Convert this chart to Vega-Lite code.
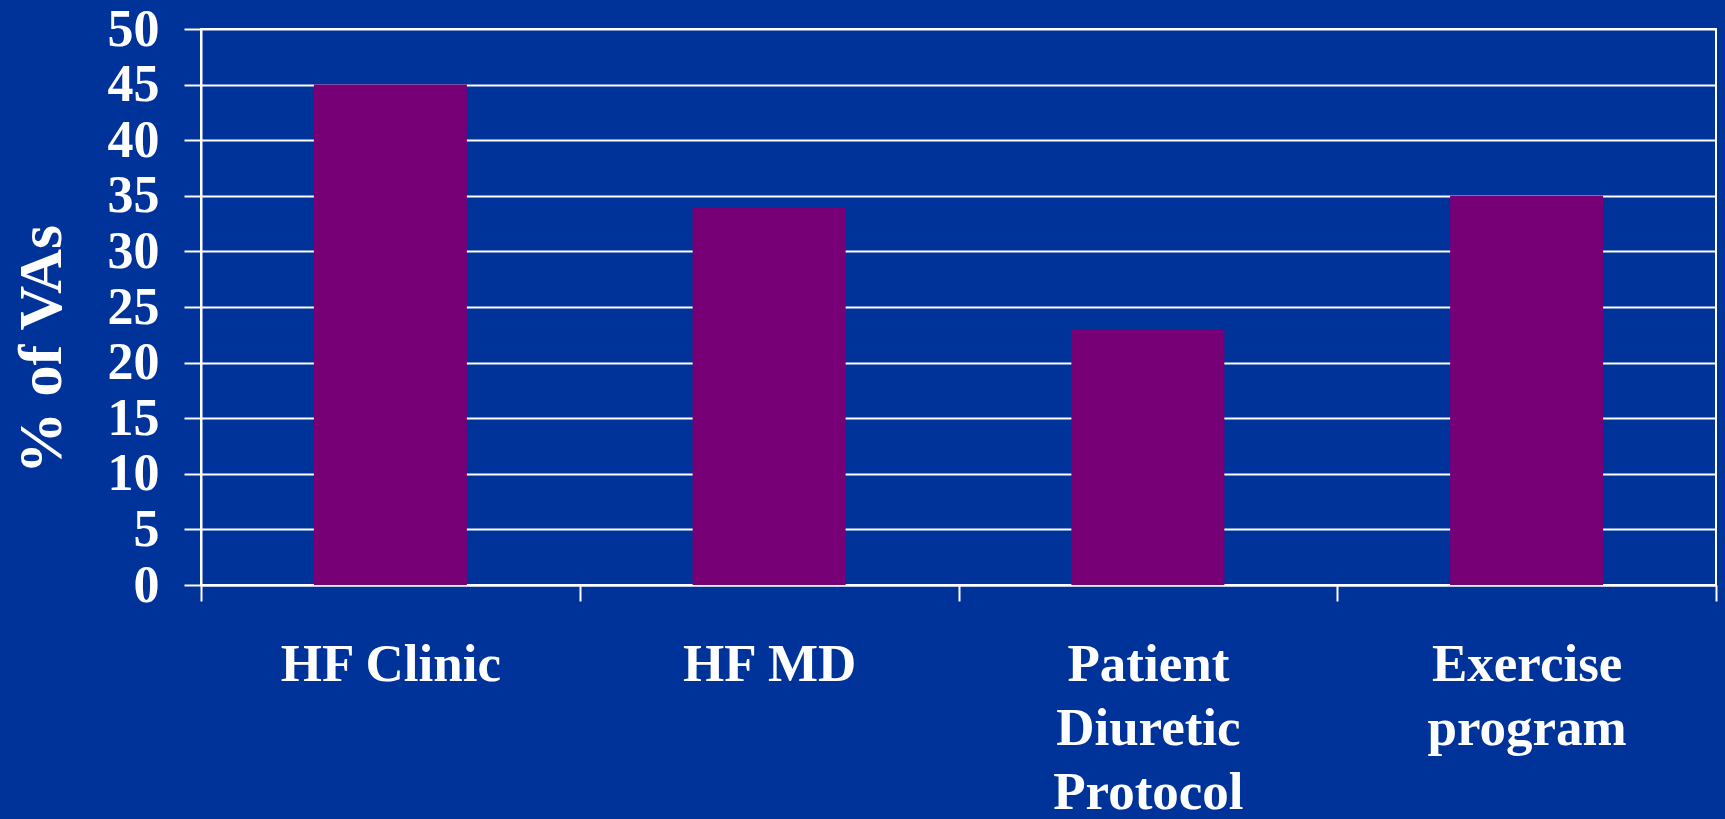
{
  "$schema": "https://vega.github.io/schema/vega-lite/v6.json",
  "width": 1515,
  "height": 556,
  "autosize": "none",
  "padding": {"left": 201, "top": 29, "right": 9, "bottom": 234},
  "background": "#003399",
  "config": {
    "view": {"stroke": "#ffffff", "strokeWidth": 2},
    "font": "Liberation Serif"
  },
  "data": {
    "values": [
      {"program": "HF Clinic", "pct": 45},
      {"program": "HF MD", "pct": 34},
      {"program": "Patient|Diuretic|Protocol", "pct": 23},
      {"program": "Exercise|program", "pct": 35}
    ]
  },
  "mark": {"type": "bar", "color": "#770077", "width": {"band": 0.404}},
  "encoding": {
    "x": {
      "field": "program",
      "type": "nominal",
      "sort": null,
      "scale": {"paddingInner": 0, "paddingOuter": 0},
      "axis": {
        "title": null,
        "labelAngle": 0,
        "labelExpr": "split(datum.label, '|')",
        "labelFont": "Liberation Serif",
        "labelFontWeight": "bold",
        "labelFontSize": 53,
        "labelColor": "#ffffff",
        "labelLineHeight": 64,
        "labelPadding": 37,
        "labelBaseline": "top",
        "labelLimit": 0,
        "domainColor": "#ffffff",
        "domainWidth": 2,
        "tickColor": "#ffffff",
        "tickWidth": 2,
        "tickSize": 16,
        "tickBand": "extent",
        "grid": false
      }
    },
    "y": {
      "field": "pct",
      "type": "quantitative",
      "scale": {"domain": [0, 50], "nice": false},
      "axis": {
        "title": "% of VAs",
        "titleFont": "Liberation Serif",
        "titleFontWeight": "bold",
        "titleFontSize": 62,
        "titleColor": "#ffffff",
        "titleAngle": -90,
        "titleAlign": "center",
        "titleBaseline": "alphabetic",
        "titleX": -141,
        "titleY": 320,
        "values": [0, 5, 10, 15, 20, 25, 30, 35, 40, 45, 50],
        "labelFont": "Liberation Serif",
        "labelFontWeight": "bold",
        "labelFontSize": 52,
        "labelColor": "#ffffff",
        "labelPadding": 25,
        "labelBaseline": "middle",
        "domainColor": "#ffffff",
        "domainWidth": 2,
        "tickColor": "#ffffff",
        "tickWidth": 2,
        "tickSize": 17,
        "grid": true,
        "gridColor": "#ffffff",
        "gridWidth": 2,
        "gridOpacity": 1
      }
    }
  }
}
